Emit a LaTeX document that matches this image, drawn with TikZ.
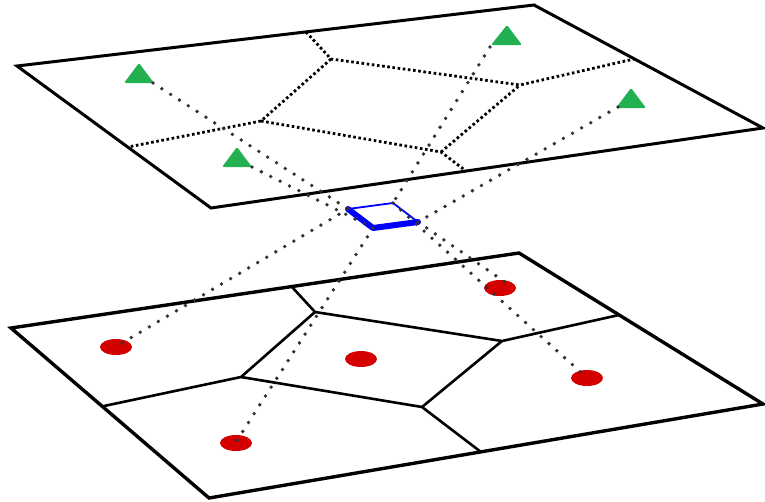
\documentclass[tikz,border=0pt]{standalone}
\usetikzlibrary{calc,shapes.geometric}
\definecolor{trigreen}{RGB}{34,176,80}
\definecolor{ellred}{RGB}{212,0,0}
\definecolor{raygray}{RGB}{50,50,50}
\begin{document}
\begin{tikzpicture}[x=1pt,y=-1pt,
  plane/.style={draw=black,line width=3pt,line join=miter},
  voronoitop/.style={draw=black,line width=2.8pt,dash pattern=on 2.6pt off 2.6pt},
  voronoibot/.style={draw=black,line width=2.6pt,line cap=round},
  ray/.style={draw=raygray,line width=3.8pt,line cap=round,dash pattern=on 0pt off 10.5pt},
  marker/.style={fill=trigreen,rounded corners=1.5pt},
  site/.style={fill=ellred,ellipse,minimum width=32pt,minimum height=16pt,inner sep=0pt},
  pixthin/.style={draw=blue,line width=1.8pt,line cap=round},
  pixthick/.style={draw=blue,line width=6pt,line cap=round,line join=round}]
\useasboundingbox (0,0) rectangle (765,501);
\fill[white] (0,0) rectangle (765,501);
% top plane
\coordinate (TP1) at (17,66);
\coordinate (TP2) at (534,5);
\coordinate (TP3) at (763,128);
\coordinate (TP4) at (211,208);
\draw[plane] (TP1) -- (TP2) -- (TP3) -- (TP4) -- cycle;
\coordinate (ta) at (306,32);
\coordinate (tb) at (128,147);
\coordinate (tc) at (466,171);
\coordinate (td) at (634,59);
\coordinate (VA) at (331,59);
\coordinate (VB) at (520,85);
\coordinate (VC) at (261,121);
\coordinate (VD) at (441,152);
\draw[voronoitop] (ta) -- (VA) -- (VB) -- (td);
\draw[voronoitop] (VA) -- (VC) -- (tb);
\draw[voronoitop] (VC) -- (VD) -- (tc);
\draw[voronoitop] (VD) -- (VB);
% bottom plane
\coordinate (BP1) at (11,328);
\coordinate (BP2) at (519,253);
\coordinate (BP3) at (763,404);
\coordinate (BP4) at (209,498);
\draw[plane,line width=3.4pt] (BP1) -- (BP2) -- (BP3) -- (BP4) -- cycle;
\coordinate (ba) at (292,287);
\coordinate (bb) at (104,406);
\coordinate (bc) at (481,452);
\coordinate (bd) at (619,315);
\coordinate (P) at (315,312);
\coordinate (Q) at (502,341);
\coordinate (R) at (241,377);
\coordinate (S) at (422,407);
\draw[voronoibot] (ba) -- (P) -- (Q) -- (bd);
\draw[voronoibot] (P) -- (R) -- (bb);
\draw[voronoibot] (R) -- (S) -- (bc);
\draw[voronoibot] (S) -- (Q);
% sites on bottom plane
\node[site] (E1) at (116,347) {};
\node[site] (E2) at (361,359) {};
\node[site] (E3) at (500,288) {};
\node[site] (E4) at (587,378) {};
\node[site] (E5) at (236,443) {};
% pixel
\coordinate (PL) at (348,209);
\coordinate (PT) at (393,203);
\coordinate (PR) at (418,222);
\coordinate (PB) at (373,228);
\draw[pixthin] (PL) -- (PT) -- (PR);
\draw[pixthick] (PL) -- (PB) -- (PR);
% green markers
\fill[marker] (124,83) -- (139,63) -- (154,83) -- cycle;
\fill[marker] (222,167) -- (237,147) -- (252,167) -- cycle;
\fill[marker] (491,45) -- (507,25) -- (522,45) -- cycle;
\fill[marker] (616,108) -- (631,88) -- (646,108) -- cycle;
\coordinate (T1) at (153,83);
\coordinate (T4) at (252,167);
\coordinate (T2) at (490,47);
\coordinate (T3) at (618,107);
\coordinate (E1c) at (117,346);
\coordinate (E5c) at (236,442);
\coordinate (E4c) at (586,377);
\coordinate (E3c) at (505,282);
% rays
\draw[ray] (T1) -- (PL);
\draw[ray] (PL) -- (E1c);
\draw[ray] (T4) -- (PB);
\draw[ray] (PB) -- (E5c);
\draw[ray] (T2) -- (PT);
\draw[ray] (PT) -- (E4c);
\draw[ray] (T3) -- (PR);
\draw[ray] (PR) -- (E3c);
\end{tikzpicture}
\end{document}
